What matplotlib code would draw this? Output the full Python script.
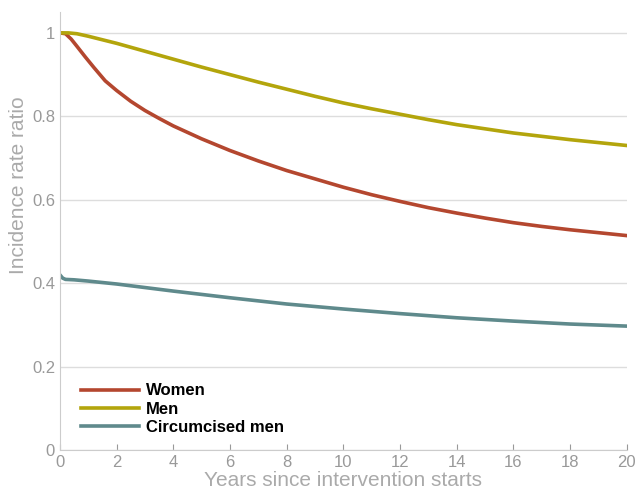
import numpy as np
import matplotlib.pyplot as plt

plt.rcParams['font.family'] = ['Liberation Sans', 'DejaVu Sans']

years_w = [0, 0.2, 0.4, 0.6, 0.9, 1.2, 1.6, 2, 2.5, 3, 3.5, 4, 5, 6, 7, 8, 9, 10,
           11, 12, 13, 14, 15, 16, 17, 18, 19, 20]
women = [1.0, 0.998, 0.985, 0.968, 0.942, 0.917, 0.885, 0.862, 0.836, 0.814, 0.795,
         0.777, 0.746, 0.718, 0.693, 0.67, 0.65, 0.63, 0.612, 0.596, 0.581, 0.568,
         0.556, 0.545, 0.536, 0.528, 0.521, 0.514]

years_m = [0, 0.3, 0.6, 1, 2, 3, 4, 5, 6, 7, 8, 9, 10, 11, 12, 13, 14, 15, 16, 17, 18, 19, 20]
men = [1.0, 1.0, 0.998, 0.992, 0.975, 0.956, 0.937, 0.918, 0.9, 0.882, 0.865, 0.848,
       0.832, 0.818, 0.805, 0.792, 0.78, 0.77, 0.76, 0.752, 0.744, 0.737, 0.73]

years_c = [0, 0.1, 0.2, 0.5, 1, 2, 4, 6, 8, 10, 12, 14, 16, 18, 20]
circ = [0.42, 0.412, 0.409, 0.408, 0.405, 0.398, 0.381, 0.365, 0.35, 0.338, 0.327,
        0.317, 0.309, 0.302, 0.297]

fig = plt.figure(figsize=(6.37, 4.91), dpi=100)
ax = fig.add_axes([0.094, 0.0835, 0.89, 0.892])

ax.plot(years_w, women, color='#b4472f', linewidth=2.6, label='Women')
ax.plot(years_m, men, color='#b3a50c', linewidth=2.6, label='Men')
ax.plot(years_c, circ, color='#5f8a8c', linewidth=2.6, label='Circumcised men')

ax.set_xlim(0, 20)
ax.set_ylim(0, 1.05)
ax.set_xticks(np.arange(0, 21, 2))
ax.set_yticks([0, 0.2, 0.4, 0.6, 0.8, 1])
ax.set_yticklabels(['0', '0.2', '0.4', '0.6', '0.8', '1'])
ax.grid(axis='y', color='#dddddd', linewidth=1)
ax.set_axisbelow(True)

for s in ['top', 'right']:
    ax.spines[s].set_visible(False)
for s in ['left', 'bottom']:
    ax.spines[s].set_color('#cccccc')
ax.tick_params(colors='#999999', labelsize=12, length=4, direction='in')
ax.tick_params(axis='y', length=0)

ax.set_xlabel('Years since intervention starts', fontsize=15, color='#aaaaaa', labelpad=1)
ax.set_ylabel('Incidence rate ratio', fontsize=15, color='#aaaaaa')
ax.yaxis.set_label_coords(-0.056, 0.605)

leg = ax.legend(loc='lower left', frameon=False, handlelength=3.5, handletextpad=0.4,
                labelspacing=0.2, bbox_to_anchor=(0.01, 0.0),
                prop={'weight': 'bold', 'size': 12})

fig.savefig('out.png', dpi=100)
